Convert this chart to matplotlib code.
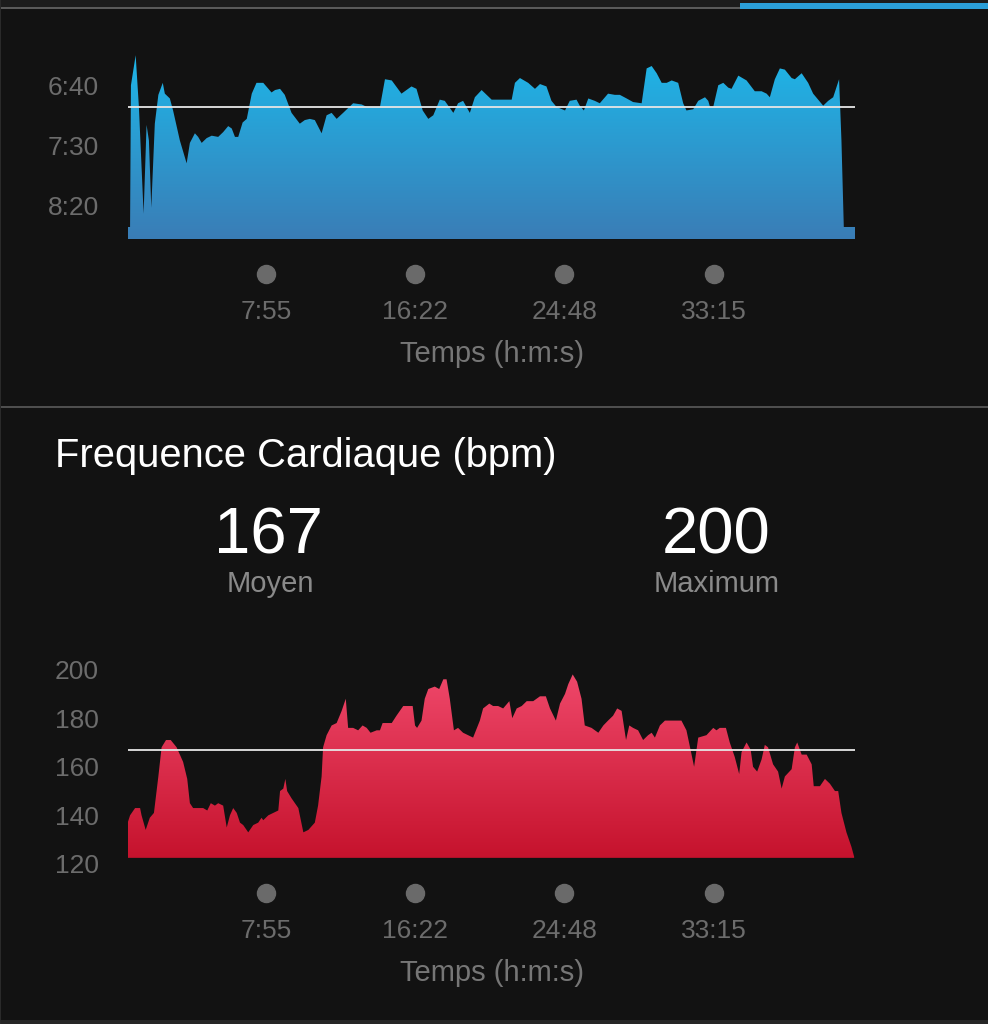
import matplotlib
matplotlib.use("Agg")
import matplotlib.pyplot as plt
import numpy as np
from matplotlib.colors import LinearSegmentedColormap
from matplotlib.patches import PathPatch, Rectangle

plt.rcParams['font.family'] = ['Liberation Sans', 'DejaVu Sans']

# pace (s/km) against elapsed time (s)
pace_t = [7, 14, 17, 33, 44, 60, 70, 78, 86, 98,
          110, 125, 132, 149, 160, 183, 206, 217, 234, 245,
          257, 274, 291, 313, 330, 347, 359, 370, 381, 396,
          410, 427, 443, 466, 494, 506, 523, 539, 562, 590,
          607, 624, 641, 664, 681, 698, 715, 737, 771, 800,
          817, 862, 879, 902, 935, 969, 986, 1007, 1026, 1043,
          1065, 1082, 1111, 1127, 1144, 1167, 1184, 1207, 1241, 1309,
          1320, 1337, 1365, 1388, 1405, 1427, 1444, 1461, 1490, 1506,
          1529, 1540, 1554, 1569, 1591, 1608, 1636, 1659, 1676, 1699,
          1721, 1750, 1767, 1784, 1801, 1818, 1835, 1852, 1874, 1891,
          1902, 1925, 1942, 1965, 1976, 1982, 1993, 2010, 2027, 2044,
          2055, 2078, 2106, 2134, 2157, 2174, 2185, 2202, 2219, 2236,
          2259, 2270, 2293, 2315, 2332, 2366, 2383, 2400, 2420, 2428,
          2436, 2474]
pace_v = [518, 518, 400, 375, 418, 507, 433, 446, 502, 432,
          408, 398, 407, 411, 421, 446, 465, 448, 440, 443,
          448, 444, 442, 443, 439, 434, 436, 443, 443, 431,
          428, 407, 398, 398, 406, 404, 403, 408, 423, 432,
          429, 428, 429, 440, 425, 423, 428, 423, 415, 416,
          418, 418, 395, 396, 407, 401, 403, 421, 428, 425,
          412, 413, 423, 415, 413, 423, 410, 404, 412, 412,
          398, 394, 398, 403, 399, 401, 413, 418, 421, 413,
          412, 417, 421, 411, 413, 415, 407, 408, 408, 411,
          414, 415, 386, 384, 390, 398, 398, 396, 398, 415,
          421, 420, 413, 410, 413, 418, 418, 400, 398, 402,
          403, 392, 396, 405, 405, 407, 410, 395, 386, 387,
          394, 395, 390, 398, 407, 417, 413, 410, 395, 446,
          518, 518]
pace_avg = 418
pace_base = 528
pace_ticks = [400, 450, 500]

# heart rate (bpm) against elapsed time (s)
hr_t = [6, 14, 31, 48, 53, 67, 81, 95, 110, 121,
        136, 152, 172, 194, 208, 217, 228, 262, 276, 288,
        302, 313, 330, 342, 353, 364, 376, 387, 398, 415,
        432, 449, 460, 466, 483, 500, 517, 523, 534, 541,
        547, 562, 585, 602, 619, 641, 652, 664, 669, 681,
        698, 715, 732, 746, 754, 771, 788, 803, 817, 830,
        851, 862, 871, 885, 902, 918, 941, 958, 973, 981,
        988, 1003, 1014, 1026, 1048, 1063, 1077, 1088, 1099, 1113,
        1127, 1144, 1161, 1178, 1201, 1212, 1233, 1246, 1263, 1280,
        1301, 1311, 1326, 1343, 1360, 1382, 1405, 1425, 1439, 1459,
        1473, 1490, 1501, 1516, 1531, 1546, 1557, 1580, 1603, 1620,
        1636, 1653, 1667, 1682, 1697, 1708, 1721, 1738, 1755, 1772,
        1784, 1795, 1812, 1829, 1852, 1885, 1902, 1916, 1928, 1942,
        1970, 1993, 2004, 2015, 2036, 2049, 2066, 2081, 2089, 2106,
        2120, 2128, 2142, 2157, 2168, 2179, 2196, 2213, 2225, 2236,
        2259, 2270, 2278, 2293, 2310, 2327, 2334, 2355, 2372, 2389,
        2406, 2417, 2428, 2445, 2462, 2471]
hr_v = [137, 140, 143, 143, 140, 134, 139, 141, 156, 168,
        171, 171, 168, 162, 155, 145, 143, 143, 142, 145,
        144, 145, 144, 135, 140, 143, 141, 137, 136, 133,
        136, 137, 139, 138, 140, 141, 142, 150, 151, 155,
        150, 147, 143, 133, 134, 137, 144, 156, 168, 173,
        177, 178, 183, 188, 176, 176, 175, 177, 176, 174,
        175, 175, 178, 178, 178, 181, 185, 185, 185, 177,
        176, 179, 188, 192, 193, 192, 196, 196, 188, 175,
        176, 174, 173, 172, 179, 184, 186, 185, 185, 184,
        187, 180, 184, 185, 187, 187, 189, 189, 184, 179,
        186, 190, 194, 198, 195, 188, 177, 176, 174, 177,
        179, 181, 184, 183, 171, 177, 176, 175, 171, 173,
        174, 172, 177, 179, 179, 179, 175, 167, 160, 172,
        173, 176, 175, 176, 176, 170, 164, 157, 166, 170,
        167, 160, 158, 163, 169, 168, 161, 158, 151, 156,
        159, 168, 170, 165, 165, 161, 152, 152, 155, 153,
        150, 150, 141, 133, 127, 123]
hr_avg = 167
hr_max = 200
hr_base = 122.5
hr_ticks = [120, 140, 160, 180, 200]

time_ticks = [475, 982, 1488, 1995]
t_range = (7, 2474)

BG = '#121212'
TICK_GREY = '#6c6c6c'
LABEL_GREY = '#767676'


def mmss(s):
    s = int(round(s))
    return f"{s // 60}:{s % 60:02d}"


W, H = 988, 1024
fig = plt.figure(figsize=(W / 100, H / 100), dpi=100, facecolor=BG)


def px_axes(x0, y0, x1, y1):
    return fig.add_axes([x0 / W, 1 - y1 / H, (x1 - x0) / W, (y1 - y0) / H])


def px_rect(x0, y0, x1, y1, color):
    fig.add_artist(Rectangle((x0 / W, 1 - y1 / H), (x1 - x0) / W, (y1 - y0) / H,
                             transform=fig.transFigure, color=color, lw=0))


def gradient_fill(ax, t, v, base, c_top, c_bot):
    poly = ax.fill_between(t, v, base, facecolor='none', edgecolor='none')
    cmap = LinearSegmentedColormap.from_list('grad', [c_bot, c_top])
    grad = np.linspace(0, 1, 256).reshape(-1, 1)
    im = ax.imshow(grad, cmap=cmap, aspect='auto', extent=[0, 1, 0, 1],
                   origin='lower', transform=ax.transAxes, zorder=1)
    clip = PathPatch(poly.get_paths()[0], transform=ax.transData,
                     facecolor='none', edgecolor='none')
    ax.add_patch(clip)
    im.set_clip_path(clip)


def style_axes(ax, box_px, dot_px, tick_pad):
    ax.set_facecolor('none')
    for sp in ax.spines.values():
        sp.set_visible(False)
    ax.tick_params(length=0, labelcolor=TICK_GREY, labelsize=19)
    ax.tick_params(axis='y', pad=21)
    ax.tick_params(axis='x', pad=tick_pad)
    ax.set_xlim(*t_range)
    ax.set_xticks(time_ticks, [mmss(t) for t in time_ticks])
    h = box_px[3] - box_px[1]
    ax.plot(time_ticks, [-dot_px / h] * len(time_ticks), 'o', ms=13,
            color='#6a6a6a', transform=ax.get_xaxis_transform(), clip_on=False)
    ax.set_xlabel('Temps (h:m:s)', color=LABEL_GREY, fontsize=21, labelpad=11.5)


# ---- pace chart ----
box1 = (128, 48, 855, 239)
ax1 = px_axes(*box1)
gradient_fill(ax1, pace_t, pace_v, pace_base, '#1db8ea', '#3a7db6')
ax1.axhline(pace_avg, color='#e6e6e6', lw=1.3, zorder=3)
ax1.set_ylim(pace_base, 369)
ax1.set_yticks(pace_ticks, [mmss(p) for p in pace_ticks])
style_axes(ax1, box1, 35, 44)

# ---- heart rate chart ----
box2 = (128, 655, 855, 870)
ax2 = px_axes(*box2)
gradient_fill(ax2, hr_t, hr_v, hr_base, '#f34d70', '#c30f29')
ax2.axhline(hr_avg, color='#e6e6e6', lw=1.3, zorder=3)
ax2.set_ylim(117.5, 206)
ax2.set_yticks(hr_ticks, [str(v) for v in hr_ticks])
style_axes(ax2, box2, 23, 35)

fig.text(55 / W, 1 - 467 / H, 'Frequence Cardiaque (bpm)', color='white',
         fontsize=28.7, va='baseline', ha='left')
fig.text(268 / W, 1 - 553 / H, str(hr_avg), color='white', fontsize=47,
         va='baseline', ha='center')
fig.text(270 / W, 1 - 592 / H, 'Moyen', color='#8a8a8a', fontsize=21,
         va='baseline', ha='center')
fig.text(716 / W, 1 - 553 / H, str(hr_max), color='white', fontsize=47,
         va='baseline', ha='center')
fig.text(717 / W, 1 - 592 / H, 'Maximum', color='#8a8a8a', fontsize=21,
         va='baseline', ha='center')

# window chrome: top strip, separator, borders
px_rect(0, 0, W, 7, '#1c1c1c')
px_rect(0, 7, W, 9, '#5a5a5a')
px_rect(740, 3, W, 9, '#2b9fd8')
px_rect(0, 406, W, 408, '#4e4e4e')
px_rect(0, 1020, W, H, '#262626')
px_rect(0, 0, 1, H, '#2a2a2a')

fig.savefig('out.png', dpi=100, facecolor=BG)
